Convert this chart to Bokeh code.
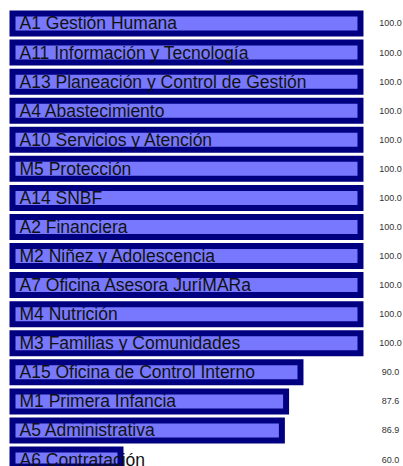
from bokeh.plotting import figure
from bokeh.models import Range1d, ColumnDataSource
from bokeh.embed import file_html
from bokeh.resources import INLINE
from bokeh.core.properties import value

categories = [
    "A1 Gestión Humana",
    "A11 Información y Tecnología",
    "A13 Planeación y Control de Gestión",
    "A4 Abastecimiento",
    "A10 Servicios y Atención",
    "M5 Protección",
    "A14 SNBF",
    "A2 Financiera",
    "M2 Niñez y Adolescencia",
    "A7 Oficina Asesora JuríMARa",
    "M4 Nutrición",
    "M3 Familias y Comunidades",
    "A15 Oficina de Control Interno",
    "M1 Primera Infancia",
    "A5 Administrativa",
    "A6 Contratación",
]
values = [100.0, 100.0, 100.0, 100.0, 100.0, 100.0, 100.0, 100.0,
          100.0, 100.0, 100.0, 100.0, 90.0, 87.6, 86.9, 60.0]
value_labels = [f"{v:.1f}" for v in values]

BASE = 42.0
LABEL_X = 105.0

positions = list(range(len(categories)))
src = ColumnDataSource(dict(
    y=positions,
    left=[BASE] * len(values),
    right=values,
    cat=categories,
    vlab=value_labels,
    lx=[BASE] * len(values),
    vx=[LABEL_X] * len(values),
))

p = figure(width=403, height=466, output_backend="svg", toolbar_location=None,
           x_range=Range1d(40.0, 107.17), y_range=Range1d(15.24, -0.791),
           min_border=0, outline_line_color=None)
p.xaxis.visible = False
p.yaxis.visible = False
p.xgrid.visible = False
p.ygrid.visible = False

p.hbar(y="y", left="left", right="right", height=0.688, source=src,
       fill_color="#7878ff", line_color="#000080", line_width=6,
       line_join="miter")

p.text(x="lx", y="y", text="cat", source=src, x_offset=7, y_offset=0,
       text_font=value("Liberation Sans"), text_font_size="17.5px",
       text_color="#111111", text_baseline="middle", text_align="left")

p.text(x="vx", y="y", text="vlab", source=src,
       text_font=value("Liberation Sans"), text_font_size="9px",
       text_color="#333333", text_baseline="middle", text_align="center")

open("out.html", "w").write(file_html(p, INLINE))
